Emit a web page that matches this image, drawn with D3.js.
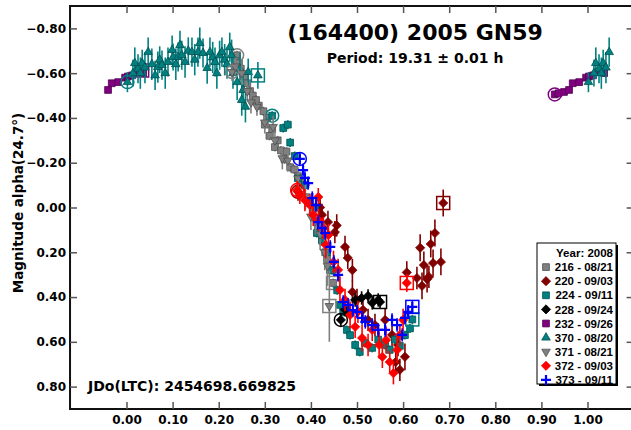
<!DOCTYPE html>
<html>
<head>
<meta charset="utf-8">
<script src="https://cdn.jsdelivr.net/npm/d3@7"></script>
<style>
  body { margin: 0; background: #fff; }
  svg { display: block; }
  text { font-family: "DejaVu Sans", sans-serif; font-weight: bold; fill: #000; }
</style>
</head>
<body>
<svg id="chart" width="631" height="430"></svg>
<script>
// Session labels (legend order) and colours
const sessionLabels = ["216 - 08/21", "220 - 09/03", "224 - 09/11", "228 - 09/24", "232 - 09/26",
                       "370 - 08/20", "371 - 08/21", "372 - 09/03", "373 - 09/11"];
const sessionColors = ["#808080", "#800000", "#008080", "#000000", "#800080",
                       "#008080", "#808080", "#ff0000", "#0000ff"];
const sessionShapes = ["square", "diamond", "square", "diamond", "square",
                       "triangle", "triangleDown", "diamond", "plus"];

// Observations per session: [phase, magnitude, error]
const s216 = [[0.240,-0.680,0.02],[0.236,-0.655,0.02],[0.244,-0.645,0.02],[0.248,-0.620,0.02],[0.255,-0.585,0.02],
  [0.262,-0.555,0.02],[0.268,-0.520,0.02],[0.274,-0.500,0.02],[0.281,-0.480,0.02],[0.287,-0.455,0.02],
  [0.297,-0.430,0.02],[0.305,-0.400,0.02],[0.300,-0.370,0.02],[0.316,-0.350,0.02],[0.310,-0.320,0.02],
  [0.328,-0.300,0.02],[0.322,-0.270,0.02],[0.335,-0.255,0.02],[0.347,-0.250,0.02],[0.343,-0.215,0.02],
  [0.355,-0.180,0.02],[0.364,-0.170,0.02],[0.372,-0.140,0.02],[0.381,-0.110,0.02],[0.395,-0.020,0.02],
  [0.404,0.020,0.02],[0.415,0.090,0.02],[0.425,0.150,0.02],[0.431,0.200,0.02],[0.435,0.230,0.02],
  [0.441,0.280,0.02],[0.448,0.337,0.02]];
const s220 = [[0.372,-0.070,0.04],[0.387,-0.100,0.04],[0.420,0.000,0.05],[0.424,0.033,0.05],[0.437,0.065,0.05],
  [0.452,0.110,0.05],[0.456,0.080,0.05],[0.474,0.176,0.05],[0.480,0.225,0.05],[0.490,0.280,0.05],
  [0.490,0.377,0.05],[0.500,0.413,0.05],[0.513,0.457,0.05],[0.524,0.502,0.05],[0.539,0.525,0.05],
  [0.561,0.502,0.05],[0.576,0.569,0.05],[0.589,0.614,0.05],[0.604,0.667,0.06],[0.584,0.690,0.05],
  [0.593,0.725,0.05],[0.608,0.290,0.05],[0.630,0.315,0.05],[0.637,0.180,0.06],[0.641,0.350,0.06],
  [0.645,0.257,0.06],[0.652,0.320,0.06],[0.656,0.310,0.05],[0.660,0.163,0.06],[0.665,0.248,0.06],
  [0.669,0.114,0.06],[0.682,0.243,0.06],[0.687,-0.020,0.06]];
const s224 = [[0.316,-0.410,0.02],[0.340,-0.355,0.02],[0.350,-0.370,0.02],[0.355,-0.290,0.02],[0.365,-0.230,0.02],
  [0.372,-0.130,0.02],[0.387,-0.100,0.02],[0.398,-0.030,0.02],[0.409,0.000,0.02],[0.413,0.114,0.02],
  [0.424,0.145,0.02],[0.435,0.200,0.02],[0.446,0.280,0.02],[0.457,0.370,0.02],[0.463,0.435,0.02],
  [0.470,0.466,0.02],[0.478,0.547,0.02],[0.485,0.570,0.02],[0.496,0.614,0.02],[0.506,0.645,0.02],
  [0.517,0.605,0.02],[0.533,0.627,0.02],[0.546,0.590,0.02],[0.561,0.614,0.02],[0.571,0.636,0.02],
  [0.582,0.590,0.02],[0.593,0.618,0.02],[0.604,0.570,0.02],[0.615,0.540,0.02],[0.620,0.500,0.02]];
const s228 = [[0.465,0.502,0.03],[0.474,0.457,0.03],[0.485,0.470,0.03],[0.496,0.413,0.03],[0.510,0.404,0.03],
  [0.524,0.395,0.03],[0.533,0.426,0.03],[0.546,0.413,0.03],[0.550,0.422,0.03]];
const s232 = [[0.929,-0.505,0.01],[0.937,-0.510,0.01],[0.949,-0.516,0.01],[0.960,-0.525,0.01],[0.968,-0.555,0.01],
  [0.982,-0.560,0.01],[0.997,-0.580,0.01],[0.003,-0.585,0.01],[0.012,-0.590,0.01],[0.025,-0.605,0.01],
  [0.036,-0.600,0.01],[0.034,-0.612,0.01]];
const s370 = [[0.002,-0.560,0.045],[0.014,-0.600,0.060],[0.018,-0.645,0.070],[0.025,-0.620,0.065],[0.030,-0.600,0.070],
  [0.034,-0.645,0.060],[0.040,-0.625,0.070],[0.047,-0.694,0.065],[0.055,-0.640,0.070],[0.062,-0.590,0.065],
  [0.068,-0.627,0.070],[0.072,-0.660,0.060],[0.077,-0.636,0.065],[0.084,-0.600,0.070],[0.090,-0.650,0.065],
  [0.099,-0.703,0.065],[0.101,-0.672,0.060],[0.107,-0.640,0.070],[0.112,-0.672,0.065],[0.116,-0.725,0.065],
  [0.120,-0.680,0.065],[0.127,-0.650,0.070],[0.134,-0.700,0.060],[0.142,-0.694,0.065],[0.148,-0.660,0.070],
  [0.155,-0.694,0.065],[0.159,-0.734,0.070],[0.166,-0.690,0.065],[0.175,-0.623,0.070],[0.181,-0.694,0.065],
  [0.187,-0.670,0.070],[0.192,-0.650,0.065],[0.196,-0.600,0.070],[0.202,-0.680,0.065],[0.207,-0.694,0.065],
  [0.213,-0.660,0.070],[0.218,-0.640,0.065],[0.224,-0.716,0.065],[0.228,-0.680,0.070],[0.231,-0.600,0.070],
  [0.240,-0.560,0.080],[0.246,-0.620,0.070],[0.250,-0.480,0.070],[0.253,-0.525,0.070],[0.258,-0.450,0.070],
  [0.264,-0.605,0.060],[0.285,-0.590,0.060]];
const s371 = [[0.229,-0.605,0.04],[0.236,-0.630,0.04],[0.250,-0.600,0.05],[0.262,-0.520,0.04],[0.270,-0.470,0.05],
  [0.283,-0.450,0.04],[0.300,-0.380,0.05],[0.318,-0.360,0.05],[0.322,-0.300,0.04],[0.338,-0.220,0.05],
  [0.350,-0.210,0.05],[0.372,-0.130,0.05],[0.388,-0.050,0.06],[0.400,0.040,0.06],[0.410,0.060,0.06],
  [0.420,0.120,0.07],[0.430,0.200,0.08],[0.436,0.260,0.09],[0.440,0.440,0.16]];
const s372 = [[0.370,-0.078,0.04],[0.376,-0.056,0.04],[0.387,-0.033,0.05],[0.398,-0.011,0.05],[0.416,-0.047,0.04],
  [0.405,0.033,0.05],[0.416,0.056,0.05],[0.427,0.092,0.05],[0.438,0.123,0.05],[0.432,0.167,0.06],
  [0.449,0.243,0.05],[0.459,0.279,0.05],[0.463,0.368,0.06],[0.474,0.413,0.05],[0.485,0.480,0.06],
  [0.496,0.533,0.05],[0.502,0.466,0.05],[0.511,0.583,0.06],[0.524,0.614,0.05],[0.533,0.547,0.05],
  [0.548,0.614,0.06],[0.555,0.667,0.05],[0.563,0.592,0.06],[0.571,0.690,0.05],[0.579,0.740,0.05],
  [0.587,0.636,0.06],[0.593,0.569,0.05],[0.600,0.502,0.05],[0.608,0.337,0.04]];
const s373 = [[0.376,-0.217,0.03],[0.383,-0.167,0.03],[0.387,-0.132,0.03],[0.394,-0.109,0.03],[0.403,-0.042,0.03],
  [0.411,-0.011,0.03],[0.416,0.065,0.03],[0.424,0.092,0.03],[0.431,0.114,0.03],[0.442,0.176,0.03],
  [0.450,0.243,0.03],[0.459,0.301,0.03],[0.470,0.422,0.03],[0.481,0.435,0.03],[0.491,0.458,0.03],
  [0.500,0.466,0.03],[0.511,0.493,0.03],[0.518,0.511,0.03],[0.533,0.525,0.03],[0.546,0.547,0.03],
  [0.561,0.547,0.03],[0.576,0.502,0.03],[0.587,0.525,0.03],[0.598,0.569,0.03],[0.604,0.493,0.03],
  [0.611,0.466,0.03],[0.620,0.444,0.03]];
const sessionData = [s216, s220, s224, s228, s232, s370, s371, s372, s373];

const xTicks = [0, 0.1, 0.2, 0.3, 0.4, 0.5, 0.6, 0.7, 0.8, 0.9, 1.0];
const yTicks = [-0.8, -0.6, -0.4, -0.2, 0, 0.2, 0.4, 0.6, 0.8];
const titleText = "(164400) 2005 GN59";
const periodText = "Period: 19.31 \u00b1 0.01 h";
const epochText = "JDo(LTC): 2454698.669825";
const yLabel = "Magnitude alpha(24.7\u00b0)";
const legendTitle = "Year: 2008";

const svg = d3.select("#chart");
const x = d3.scaleLinear().domain([0, 1]).range([126.5, 587.5]);
const y = d3.scaleLinear().domain([-0.9, 0.9]).range([6, 409]);
const xMin = -0.1225, xMax = 1.1;
const phaseLo = -0.05, phaseHi = 1.05;

// Plot frame
svg.append("rect")
  .attr("x", x(xMin)).attr("y", y(-0.9))
  .attr("width", x(xMax) - x(xMin)).attr("height", y(0.9) - y(-0.9))
  .attr("fill", "none").attr("stroke", "#111").attr("stroke-width", 2);

// Axes with inward ticks on all four sides
const fmt = d3.format(".2f");
svg.append("g").attr("transform", `translate(0,${y(0.9)})`)
  .call(d3.axisBottom(x).tickValues(xTicks).tickSize(-7).tickPadding(6).tickFormat(fmt))
  .call(g => g.select(".domain").remove())
  .call(g => g.selectAll("text").attr("font-size", 12).style("font-family", "DejaVu Sans").style("font-weight", "bold"));
svg.append("g").attr("transform", `translate(0,${y(-0.9)})`)
  .call(d3.axisTop(x).tickValues(xTicks).tickSize(-7).tickFormat(""))
  .call(g => g.select(".domain").remove());
svg.append("g").attr("transform", `translate(${x(xMin)},0)`)
  .call(d3.axisLeft(y).tickValues(yTicks).tickSize(-7).tickPadding(4).tickFormat(fmt))
  .call(g => g.select(".domain").remove())
  .call(g => g.selectAll("text").attr("font-size", 12).style("font-family", "DejaVu Sans").style("font-weight", "bold"));
svg.append("g").attr("transform", `translate(${x(xMax)},0)`)
  .call(d3.axisRight(y).tickValues(yTicks).tickSize(-7).tickFormat(""))
  .call(g => g.select(".domain").remove());
svg.selectAll(".tick line").attr("stroke", "#555").attr("stroke-width", 1.5);

// Marker path generators
function markerPath(shape) {
  if (shape === "square") return d3.symbol(d3.symbolSquare, 46)();
  if (shape === "diamond") return "M0,-4.6L4.6,0L0,4.6L-4.6,0Z";
  if (shape === "triangle" || shape === "triangleDown") return d3.symbol(d3.symbolTriangle, 32)();
  return "M-5,0H5M0,-5V5";
}
function styleMarker(sel, shape, color) {
  if (shape === "plus") {
    sel.attr("fill", "none").attr("stroke", color).attr("stroke-width", 2.2);
  } else {
    sel.attr("fill", color)
      .attr("stroke", shape === "diamond" ? color : d3.color(color).darker(1.3).formatHex())
      .attr("stroke-width", 0.8);
  }
  return sel;
}

const plot = svg.append("g");

sessionData.forEach((pts, si) => {
  const color = sessionColors[si];
  const shape = sessionShapes[si];
  // each observation is repeated one cycle either side, within the plotted phase window
  const shown = [];
  pts.forEach(p => {
    [-1, 0, 1].forEach(k => {
      const ph = p[0] + k;
      if (ph >= phaseLo && ph <= phaseHi) shown.push({ph, mag: p[1], err: p[2]});
    });
  });
  const g = plot.append("g");
  g.selectAll("line.err").data(shown).join("line")
    .attr("x1", d => x(d.ph)).attr("x2", d => x(d.ph))
    .attr("y1", d => y(d.mag - d.err)).attr("y2", d => y(d.mag + d.err))
    .attr("stroke", color).attr("stroke-width", 1.6);
  const m = g.selectAll("path.mk").data(shown).join("path")
    .attr("d", markerPath(shape))
    .attr("transform", d => `translate(${x(d.ph)},${y(d.mag)})` + (shape === "triangleDown" ? " rotate(180)" : ""));
  styleMarker(m, shape, color);
  // first observation: open circle; last observation: open square
  const first = pts[0], last = pts[pts.length - 1];
  g.append("circle").attr("cx", x(first[0])).attr("cy", y(first[1])).attr("r", 6.5)
    .attr("fill", "none").attr("stroke", color).attr("stroke-width", 1.5);
  g.append("rect").attr("x", x(last[0]) - 6.5).attr("y", y(last[1]) - 6.5)
    .attr("width", 13).attr("height", 13)
    .attr("fill", "none").attr("stroke", color).attr("stroke-width", 1.5);
});

// Titles and annotations
svg.append("text").attr("x", 415).attr("y", 40).attr("text-anchor", "middle")
  .attr("font-size", 22).text(titleText);
svg.append("text").attr("x", 415).attr("y", 63).attr("text-anchor", "middle")
  .attr("font-size", 14).text(periodText);
svg.append("text").attr("x", 88).attr("y", 391)
  .attr("font-size", 14).text(epochText);
svg.append("text").attr("transform", "translate(23,203) rotate(-90)").attr("text-anchor", "middle")
  .attr("font-size", 13.5).text(yLabel);

// Legend
const lg = svg.append("g").attr("transform", "translate(537,243)");
const lw = 79, lh = 141;
lg.append("rect").attr("x", 2).attr("y", 2).attr("width", lw).attr("height", lh).attr("fill", "#000");
lg.append("rect").attr("width", lw).attr("height", lh).attr("fill", "#fff").attr("stroke", "#000").attr("stroke-width", 1);
lg.append("text").attr("x", lw - 3).attr("y", 10).attr("dy", "0.36em").attr("text-anchor", "end")
  .style("font-family", "Liberation Sans, Arial, sans-serif").attr("font-size", 11.5).text(legendTitle);
sessionLabels.forEach((lab, i) => {
  const cy = 10 + 14.1 * (i + 1);
  const shape = sessionShapes[i], color = sessionColors[i];
  const mk = lg.append("path").attr("d", markerPath(shape))
    .attr("transform", `translate(9,${cy})` + (shape === "triangleDown" ? " rotate(180)" : ""));
  styleMarker(mk, shape, color);
  lg.append("text").attr("x", lw - 3).attr("y", cy).attr("dy", "0.36em").attr("text-anchor", "end")
    .style("font-family", "Liberation Sans, Arial, sans-serif").attr("font-size", 11.5).text(lab);
});
</script>
</body>
</html>
